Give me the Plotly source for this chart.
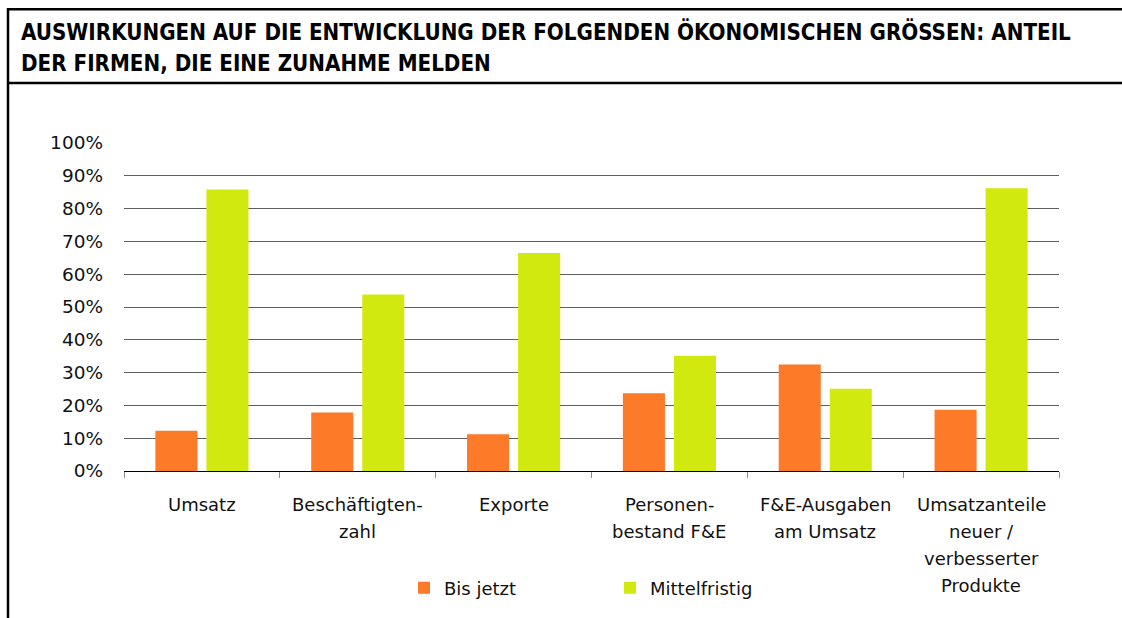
import plotly.graph_objects as go

# Category labels (line breaks as drawn under the axis)
categories = [
    "Umsatz",
    "Beschäftigten-<br>zahl",
    "Exporte",
    "Personen-<br>bestand F&E",
    "F&E-Ausgaben<br>am Umsatz",
    "Umsatzanteile<br>neuer /<br>verbesserter<br>Produkte",
]
bis_jetzt = [0.123, 0.178, 0.112, 0.237, 0.325, 0.187]
mittelfristig = [0.858, 0.538, 0.665, 0.351, 0.251, 0.862]
y_ticks = [0, 0.1, 0.2, 0.3, 0.4, 0.5, 0.6, 0.7, 0.8, 0.9, 1.0]
y_tick_labels = ["0%", "10%", "20%", "30%", "40%", "50%", "60%", "70%", "80%", "90%", "100%"]
title_lines = [
    "AUSWIRKUNGEN AUF DIE ENTWICKLUNG DER FOLGENDEN ÖKONOMISCHEN GRÖSSEN: ANTEIL",
    "DER FIRMEN, DIE EINE ZUNAHME MELDEN",
]

W, H = 1122, 618
L, R, T, B = 124, 63, 143, 144
PW, PH = W - L - R, H - T - B

ORANGE = "#FC7A28"
GREEN = "#D1E90F"
FONT = "DejaVu Sans"
TITLE_FONT = "DejaVu Sans Condensed, Liberation Sans Narrow, Arial Narrow, Roboto"
TEXT = "#111111"


def px_x(px):
    return (px - L) / PW


def px_y(py):
    return (H - B - py) / PH


fig = go.Figure()
fig.add_trace(go.Bar(name="Bis jetzt", x=categories, y=bis_jetzt,
                     marker=dict(color=ORANGE, line=dict(width=0))))
fig.add_trace(go.Bar(name="Mittelfristig", x=categories, y=mittelfristig,
                     marker=dict(color=GREEN, line=dict(width=0))))

# Category labels as annotations with fixed line spacing
annotations = []
for cat in categories:
    for i, line in enumerate(cat.split("<br>")):
        annotations.append(dict(
            x=cat, y=0, xref="x", yref="y", text=line, showarrow=False,
            xanchor="center", yanchor="middle", yshift=-(33 + 27 * i),
            font=dict(family=FONT, size=18, color=TEXT),
        ))

# Two-line header
for i, line in enumerate(title_lines):
    annotations.append(dict(
        x=px_x(19), y=px_y(30 + 32 * i), xref="paper", yref="paper",
        text="<b>" + line + "</b>", showarrow=False,
        xanchor="left", yanchor="middle",
        font=dict(family=TITLE_FONT, size=22.2, color="#000000"),
    ))

# Frame: top rule, rule under header, left edge
shapes = [
    dict(type="line", xref="paper", yref="paper",
         x0=px_x(7), x1=px_x(W + 5), y0=px_y(8), y1=px_y(8),
         line=dict(color="#000000", width=2.5)),
    dict(type="line", xref="paper", yref="paper",
         x0=px_x(7), x1=px_x(W + 5), y0=px_y(82.5), y1=px_y(82.5),
         line=dict(color="#000000", width=2.5)),
    dict(type="line", xref="paper", yref="paper",
         x0=px_x(8), x1=px_x(8), y0=px_y(7), y1=px_y(H + 5),
         line=dict(color="#000000", width=2.5)),
]

fig.update_layout(
    width=W, height=H, autosize=False,
    margin=dict(l=L, r=R, t=T, b=B, pad=0),
    paper_bgcolor="white", plot_bgcolor="white",
    barmode="group", bargap=0.345, bargroupgap=0.176,
    showlegend=True,
    legend=dict(orientation="h", x=px_x(404), y=px_y(592),
                xanchor="left", yanchor="middle",
                entrywidth=161, bgcolor="rgba(0,0,0,0)",
                font=dict(family=FONT, size=18, color=TEXT)),
    annotations=annotations,
    shapes=shapes,
)
fig.update_xaxes(
    showticklabels=False, showgrid=False,
    showline=True, linecolor="#000000", linewidth=1,
    ticks="outside", tickson="boundaries", ticklen=6,
    tickcolor="#8a8a8a", tickwidth=1,
)
fig.update_yaxes(
    range=[0, 1], tickvals=y_ticks, ticktext=y_tick_labels,
    showgrid=True, gridcolor="#5e5e5e", gridwidth=1,
    showline=False, zeroline=False, ticks="",
    ticklabelstandoff=20,
    tickfont=dict(family=FONT, size=18.5, color=TEXT),
)

fig.write_html("out.html")
